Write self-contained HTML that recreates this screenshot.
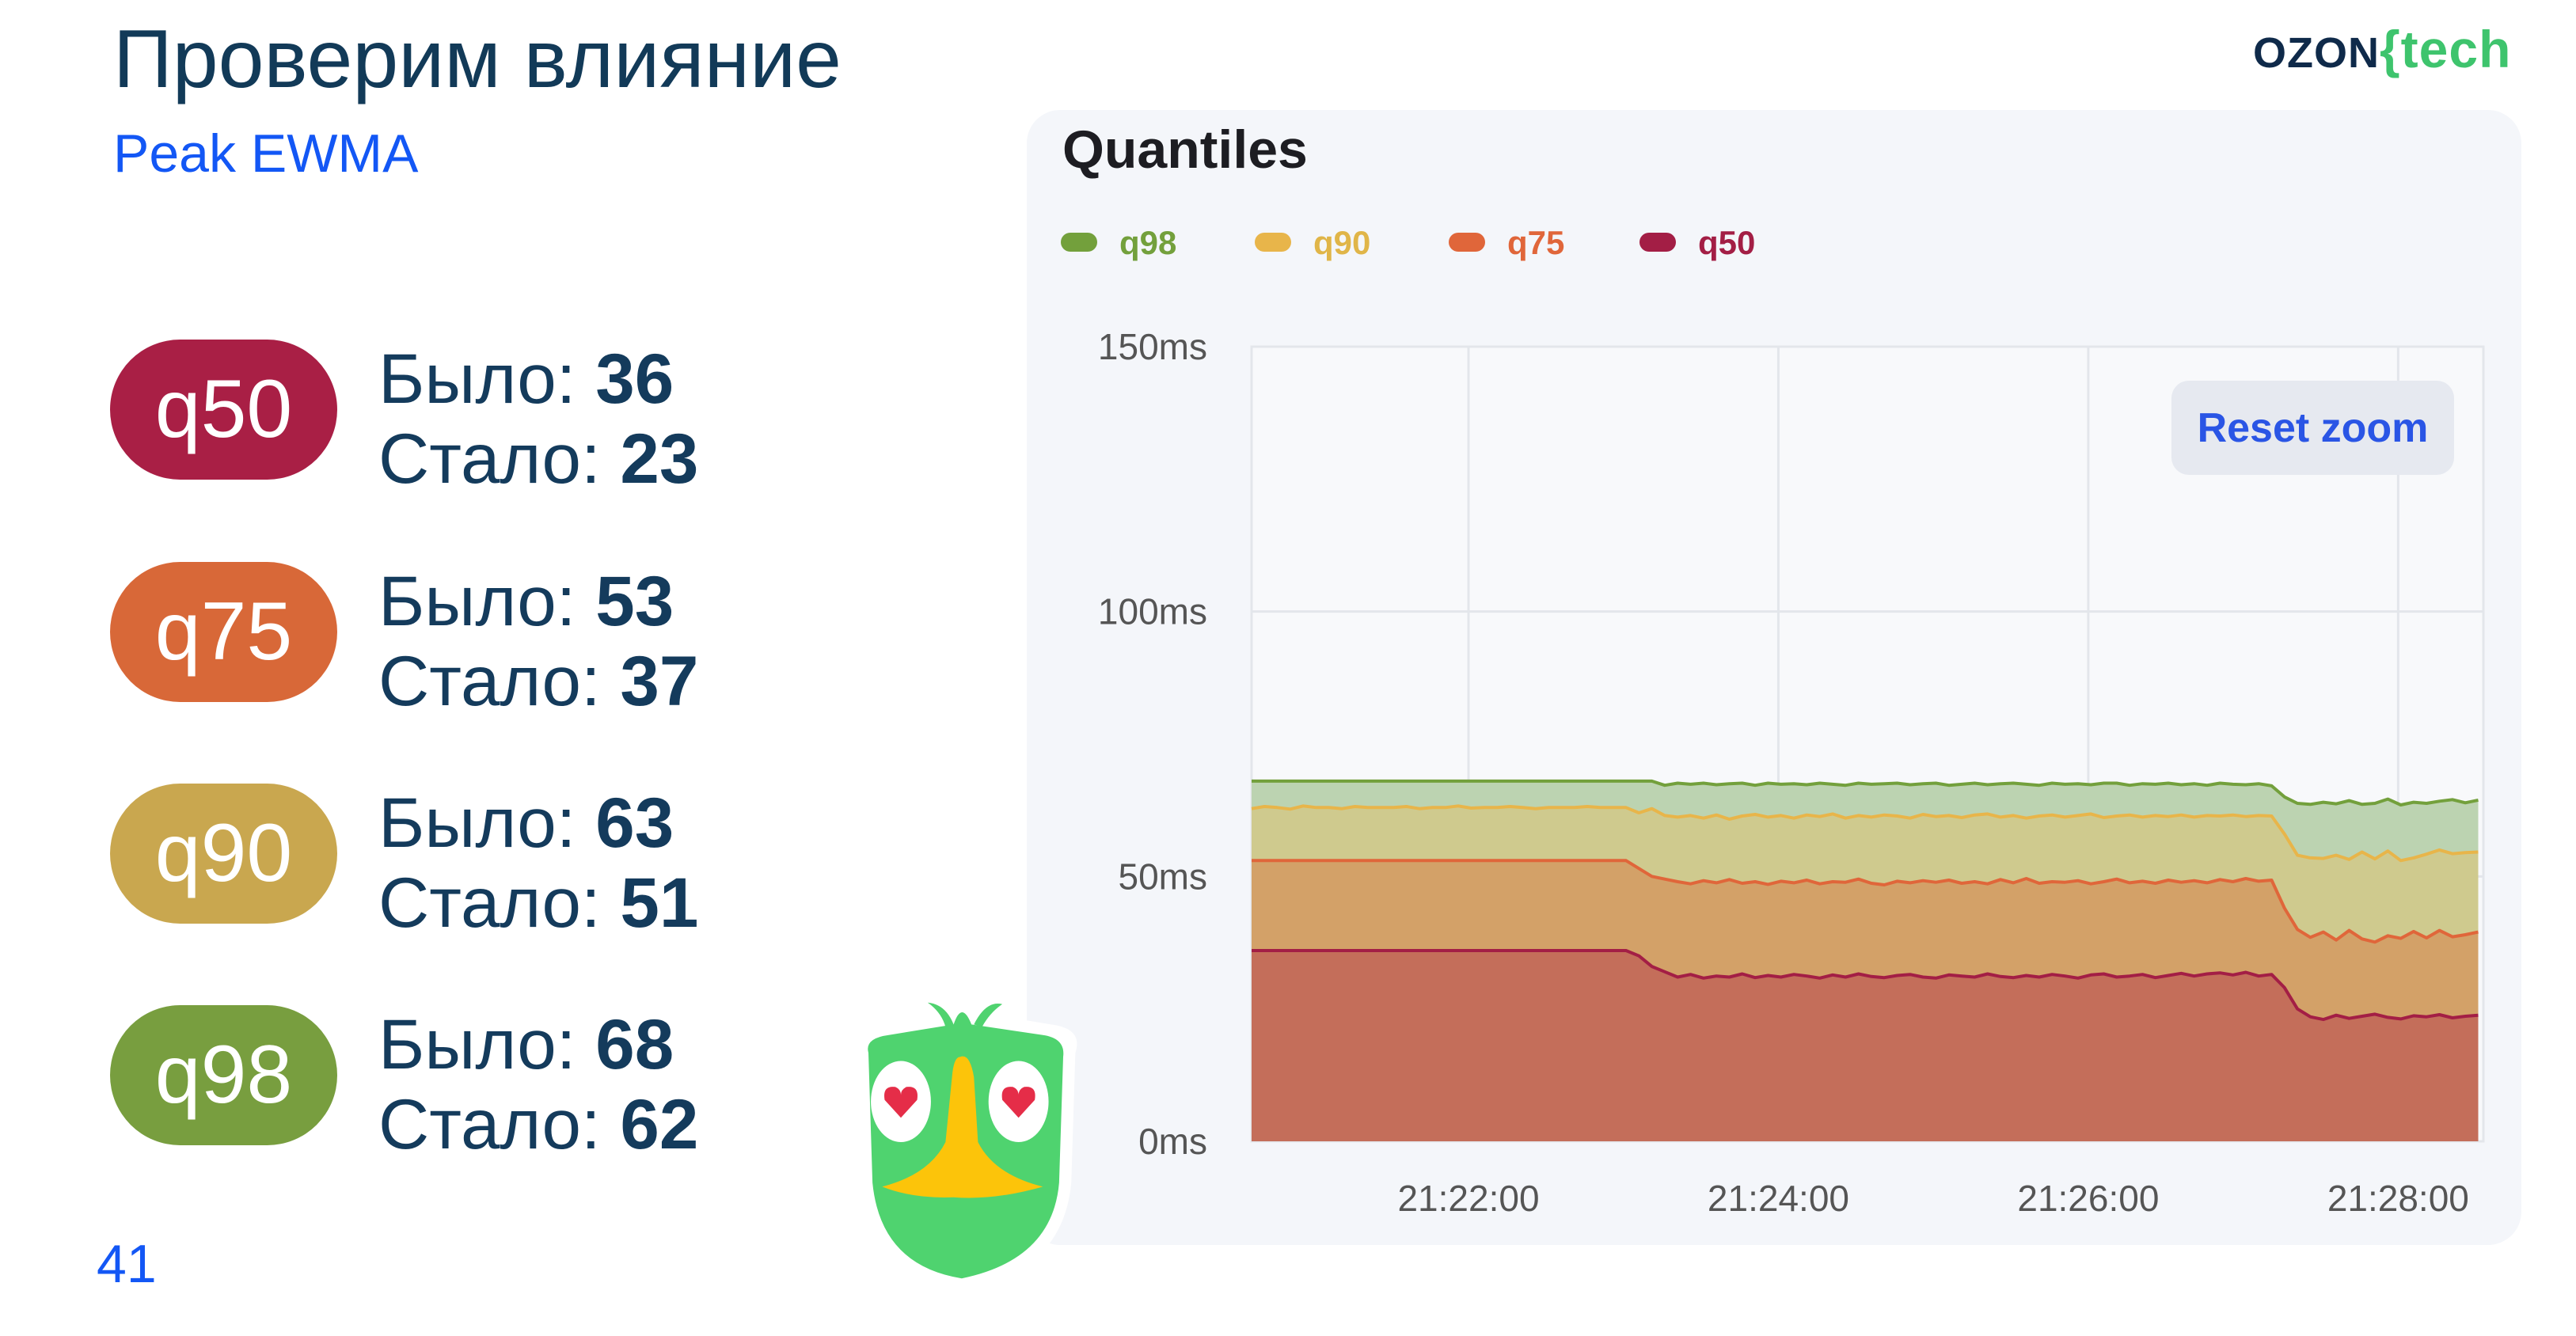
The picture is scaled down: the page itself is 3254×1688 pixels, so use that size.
<!DOCTYPE html>
<html><head><meta charset="utf-8"><style>
body{margin:0;width:3254px;height:1688px;background:#fff;position:relative;overflow:hidden;font-family:"Liberation Sans",sans-serif}
.abs{position:absolute}
.pill{position:absolute;left:139px;width:287px;height:177px;border-radius:90px;color:#fff;font-size:104px;display:flex;align-items:center;justify-content:center}
.stat{position:absolute;left:478px;color:#143b5c;font-size:89px;line-height:101px}
.stat b{font-weight:bold}
</style></head><body>
<div class="abs" style="left:143px;top:16px;font-size:104px;color:#123a58">Проверим влияние</div>
<div class="abs" style="left:143px;top:155px;font-size:68px;color:#1357f5">Peak EWMA</div>
<div class="abs" style="left:2846px;top:24px;font-size:66px;font-weight:bold;letter-spacing:1px"><span style="color:#0f2a4a;font-size:54px">OZON</span><span style="color:#3ec46d">{tech</span></div>

<div class="pill" style="top:429px;background:#a91f45">q50</div>
<div class="stat" style="top:428px">Было: <b>36</b><br>Стало: <b>23</b></div>
<div class="pill" style="top:710px;background:#d86838">q75</div>
<div class="stat" style="top:709px">Было: <b>53</b><br>Стало: <b>37</b></div>
<div class="pill" style="top:990px;background:#c9a74f">q90</div>
<div class="stat" style="top:989px">Было: <b>63</b><br>Стало: <b>51</b></div>
<div class="pill" style="top:1270px;background:#789e3f">q98</div>
<div class="stat" style="top:1269px">Было: <b>68</b><br>Стало: <b>62</b></div>
<div class="abs" style="left:122px;top:1558px;font-size:68px;color:#1357f5">41</div>

<div class="abs" style="left:1297px;top:139px;width:1888px;height:1434px;background:#f4f6fa;border-radius:42px"></div>
<div class="abs" style="left:1342px;top:150px;font-size:68px;font-weight:bold;color:#1d1d22">Quantiles</div>

<svg class="abs" id="chart" style="left:0;top:0" width="3254" height="1688"></svg>

<div class="abs" style="left:2743px;top:481px;width:357px;height:119px;background:#e6e9f0;border-radius:22px;color:#2a55e5;font-size:52px;font-weight:bold;display:flex;align-items:center;justify-content:center">Reset zoom</div>

<svg class="abs" style="left:1050px;top:1238px" width="340" height="410" viewBox="0 0 330 400">
<path d="M30 80 Q20 60 60 55 L150 40 Q165 10 180 40 L270 55 Q310 60 300 90 L295 250 Q285 360 160 385 Q45 370 30 250 Z" fill="#fff"/>
<path d="M45 90 Q40 72 70 68 L150 55 Q160 25 172 55 L260 68 Q288 72 285 95 L280 250 Q272 345 160 368 Q60 352 50 250 Z" fill="#4fd36f"/>
<path d="M150 55 Q140 30 118 28 Q135 40 140 58 Z M175 55 Q190 25 210 30 Q195 40 185 58Z" fill="#4fd36f"/>
<ellipse cx="85" cy="150" rx="37" ry="50" fill="#fff"/><ellipse cx="230" cy="150" rx="37" ry="50" fill="#fff"/>
<path d="M85 170 L65 148 Q62 130 78 132 Q85 135 85 142 Q85 135 92 132 Q108 130 105 148Z" fill="#e52d48"/>
<path d="M230 170 L210 148 Q207 130 223 132 Q230 135 230 142 Q230 135 237 132 Q253 130 250 148Z" fill="#e52d48"/>
<path d="M158 95 Q170 90 175 120 L180 200 Q200 240 260 255 Q200 272 150 268 Q100 270 62 255 Q120 240 140 200 L148 120 Q150 95 158 95Z" fill="#fcc40a"/>
</svg>

<script>
const categories=["q98","q90","q75","q50"];
const yTicks=[0,50,100,150];
const xTickLabels=["21:22:00","21:24:00","21:26:00","21:28:00"];
const xTickSeconds=[84,204,324,444];
const stepSeconds=5;
const q98=[68,68,68,68,68,68,68,68,68,68,68,68,68,68,68,68,68,68,68,68,68,68,68,68,68,68,68,68,68,68,68,68,
67.2,67.6,67.4,67.6,67.3,67.5,67.6,67.2,67.6,67.4,
67.5,67.3,67.6,67.4,67.2,67.6,67.4,67.5,67.6,67.3,
67.5,67.6,67.2,67.4,67.6,67.3,67.5,67.6,67.4,67.2,
67.6,67.4,67.5,67.3,67.6,67.6,67.2,67.5,67.4,67.6,
67.3,67.5,67.2,67.6,67.4,67.3,67.5,67.1,
65,63.8,63.6,64,63.7,64.3,63.6,63.8,64.6,63.5,64,63.8,64.2,64.5,63.9,64.4];
const q90=[62.8,63.2,63,62.7,63.3,63,63,62.8,63.2,63,63,63,63.2,62.8,63,63,63.3,62.9,63,63,63.2,63,62.8,63,63,63,63.2,63,63,63,
62,62.8,61.5,
61.2,61.5,61,61.6,60.8,61.4,61.7,61.2,61.5,61,
61.6,61.3,61.8,61,61.5,61.2,61.6,61.4,61,61.7,
61.3,61.5,61.1,61.6,61.8,61.2,61.5,61,61.4,61.6,
61.2,61.5,61.8,61.1,61.4,61.6,61.2,61.5,61.3,61.6,
61.2,61.5,61.4,61.6,61.3,61.5,61.4,
58,54,53.5,53.4,54,53.2,54.6,53.3,54.8,53,53.5,54.2,55,54.3,54.5,54.6];
const q75=[53,53,53,53,53,53,53,53,53,53,53,53,53,53,53,53,53,53,53,53,53,53,53,53,53,53,53,53,53,53,
51.5,50,49.5,
49,48.6,49.2,48.8,49.4,48.7,49,48.5,49.1,48.8,
49.3,48.6,49,48.9,49.5,48.7,48.4,49.1,48.8,49.2,
48.9,49.3,48.7,49,48.6,49.4,48.8,49.6,48.7,49,
48.9,49.2,48.6,49,49.5,48.8,49.1,48.7,49.3,48.9,
49.2,48.8,49.4,49,49.6,49.1,49.3,
44,40,38.5,39.5,38,39.8,38.2,37.6,38.8,38.3,39.6,38.4,39.8,38.6,39,39.5];
const q50=[36,36,36,36,36,36,36,36,36,36,36,36,36,36,36,36,36,36,36,36,36,36,36,36,36,36,36,36,36,36,
35,33,32,
31,31.5,30.8,31.2,31,31.6,30.9,31.3,31,31.5,
31.2,30.8,31.4,31,31.6,31.1,30.9,31.3,31.5,31,
30.8,31.4,31.2,31,31.6,31.1,30.9,31.3,31,31.5,
31.2,30.8,31.4,31.6,31,31.2,31.5,30.9,31.3,31.7,
31.2,31.6,31.8,31.4,31.9,31.2,31.5,
29,25,23.5,23,23.8,23.2,23.6,24,23.4,23.1,23.7,23.5,23.9,23.3,23.6,23.8];
const seriesList=[q98,q90,q75,q50];
const fillColors=["#bcd3b1","#cfca8e","#d3a168","#c46e5a"];
const lineColors=["#73a03c","#e8b54a","#e0663a","#a31e45"];
const legendText=["#73a03c","#e0b548","#e0663a","#a31e45"];

const NS="http://www.w3.org/2000/svg";
const svg=document.getElementById('chart');
const L=1581,R=3137,T=438,B=1442,yMax=150,tMax=477;
const xs=t=>L+(R-L)*t/tMax;
const ys=v=>B-(B-T)*v/yMax;
function mk(tag,attrs){const e=document.createElementNS(NS,tag);for(const k in attrs)e.setAttribute(k,attrs[k]);svg.appendChild(e);return e;}
const bg=mk('rect',{x:L,y:T,width:R-L,height:B-T,fill:'#f8f9fb',stroke:'#e3e6eb','stroke-width':3});


yTicks.forEach(v=>{
  const g=mk('line',{x1:L,x2:R,y1:ys(v),y2:ys(v),stroke:'#e3e6eb','stroke-width':3});
  
  
  const t=mk('text',{x:1525,y:ys(v)+16,'text-anchor':'end','font-size':46,fill:'#555','font-family':'Liberation Sans, sans-serif'});
  t.textContent=v+'ms';
  
  
});
xTickSeconds.forEach((s,i)=>{
  const g=mk('line',{x1:xs(s),x2:xs(s),y1:T,y2:B,stroke:'#e3e6eb','stroke-width':3});
  
  
  const t=mk('text',{x:xs(s),y:1530,'text-anchor':'middle','font-size':46,fill:'#555','font-family':'Liberation Sans, sans-serif'});
  t.textContent=xTickLabels[i];
  
  
});
seriesList.forEach((s,i)=>{
  let d='';
  s.forEach((v,j)=>{d+=(j?'L':'M')+xs(j*stepSeconds).toFixed(1)+' '+ys(v).toFixed(1)+' ';});
  const lastX=xs((s.length-1)*stepSeconds);
  const a=mk('path',{d:d+'L'+lastX+' '+B+' L'+L+' '+B+' Z',fill:fillColors[i]});
  
  
  const l=mk('path',{d:d,fill:'none',stroke:lineColors[i],'stroke-width':4,'stroke-linejoin':'round'});
  
  
});
const legendX=[1340,1585,1830,2071];
categories.forEach((c,i)=>{
  const r=mk('rect',{x:legendX[i],y:294,width:46,height:24,rx:12,fill:lineColors[i]});
  
  
  const t=mk('text',{x:legendX[i]+74,y:321,'font-size':42,'font-weight':'bold',fill:legendText[i],'font-family':'Liberation Sans, sans-serif'});
  t.textContent=c;
  
  
});
</script>
</body></html>
